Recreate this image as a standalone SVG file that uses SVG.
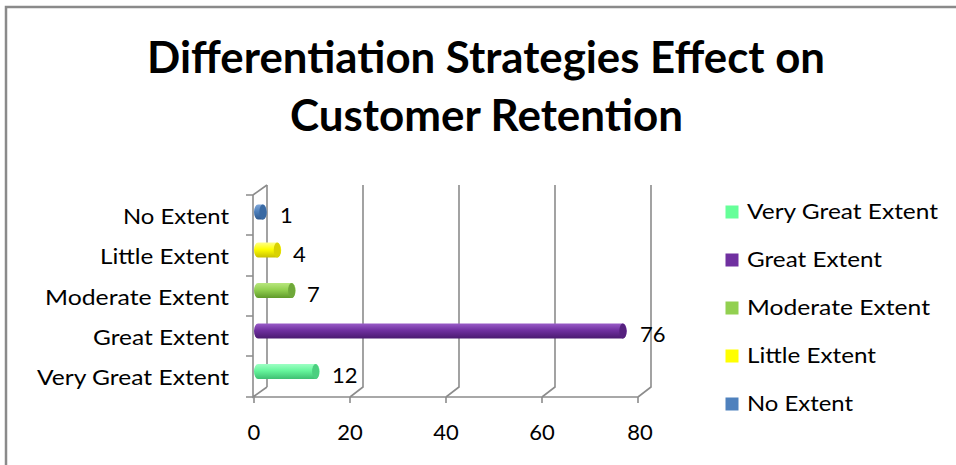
<svg xmlns="http://www.w3.org/2000/svg" width="956" height="465" viewBox="0 0 956 465">
<defs>
<style>
text{font-family:Lato,"Liberation Sans",sans-serif;fill:#000}
.title{font-size:43px;font-weight:bold}
.lbl{font-size:22px}
.grid{stroke:#8c8c8c;stroke-width:1.6;fill:none}
.axis{stroke:#8c8c8c;stroke-width:1.6;fill:none}
</style>
<linearGradient id="gVG" x1="0" y1="0" x2="0" y2="1"><stop offset="0" stop-color="#9dffc4"/><stop offset="0.45" stop-color="#66f59c"/><stop offset="1" stop-color="#3fbf72"/></linearGradient>
<linearGradient id="gG" x1="0" y1="0" x2="0" y2="1"><stop offset="0" stop-color="#9a5cc8"/><stop offset="0.45" stop-color="#7030a0"/><stop offset="1" stop-color="#4a1a70"/></linearGradient>
<linearGradient id="gM" x1="0" y1="0" x2="0" y2="1"><stop offset="0" stop-color="#b8e67e"/><stop offset="0.45" stop-color="#92d050"/><stop offset="1" stop-color="#5f9a2a"/></linearGradient>
<linearGradient id="gL" x1="0" y1="0" x2="0" y2="1"><stop offset="0" stop-color="#ffff8a"/><stop offset="0.45" stop-color="#ffff00"/><stop offset="1" stop-color="#c8c000"/></linearGradient>
<linearGradient id="gN" x1="0" y1="0" x2="0" y2="1"><stop offset="0" stop-color="#7fa6d8"/><stop offset="0.45" stop-color="#4f81bd"/><stop offset="1" stop-color="#2f5a8f"/></linearGradient>
</defs>
<rect x="0" y="0" width="956" height="465" fill="#fff"/>
<rect x="6" y="7" width="1000" height="500" fill="none" stroke="#8a8a8a" stroke-width="2.5"/>

<g id="title">
<text class="title" x="147" y="73" textLength="678" lengthAdjust="spacingAndGlyphs">Differentiation Strategies Effect on</text>
<text class="title" x="290" y="131" textLength="393" lengthAdjust="spacingAndGlyphs">Customer Retention</text>
</g>

<g id="gridlines">
<path class="grid" d="M267 185 V387 M363 185 V387 L350 397 M459 185 V387 L446 397 M555 185 V387 L542 397 M651 185 V387 L638 397"/>
<path class="axis" d="M253 195 L267 185 M253 195 V397 L267 387 M253 397 H638"/>
<path class="axis" d="M246 195 H253 M246 235 H253 M246 276 H253 M246 316 H253 M246 356 H253 M246 397 H253"/>
<path class="axis" d="M254 397 V403 M350 397 V403 M446 397 V403 M542 397 V403 M638 397 V403"/>
</g>

<g id="axis-labels">
<text class="lbl" x="229" y="224" text-anchor="end" textLength="106" lengthAdjust="spacingAndGlyphs">No Extent</text>
<text class="lbl" x="229" y="264" text-anchor="end" textLength="129" lengthAdjust="spacingAndGlyphs">Little Extent</text>
<text class="lbl" x="229" y="305" text-anchor="end" textLength="184" lengthAdjust="spacingAndGlyphs">Moderate Extent</text>
<text class="lbl" x="229" y="345" text-anchor="end" textLength="136" lengthAdjust="spacingAndGlyphs">Great Extent</text>
<text class="lbl" x="229" y="385" text-anchor="end" textLength="192" lengthAdjust="spacingAndGlyphs">Very Great Extent</text>
<text class="lbl" x="254" y="440" text-anchor="middle">0</text>
<text class="lbl" x="350" y="440" text-anchor="middle">20</text>
<text class="lbl" x="446" y="440" text-anchor="middle">40</text>
<text class="lbl" x="542" y="440" text-anchor="middle">60</text>
<text class="lbl" x="640" y="440" text-anchor="middle">80</text>
</g>

<g id="bar-no-extent">
<path d="M258 204.5 H262.8 A4 7.5 0 0 1 262.8 219.5 H258 A4 7.5 0 0 1 258 204.5 Z" fill="url(#gN)"/>
<ellipse cx="262.8" cy="212" rx="3.5" ry="7.5" fill="#3a6aa3"/>
<text class="lbl" x="280" y="223">1</text>
</g>
<g id="bar-little-extent">
<path d="M258 242.5 H277.2 A4 7.5 0 0 1 277.2 257.5 H258 A4 7.5 0 0 1 258 242.5 Z" fill="url(#gL)"/>
<ellipse cx="277.2" cy="250" rx="3.5" ry="7.5" fill="#d9d200"/>
<text class="lbl" x="293" y="262">4</text>
</g>
<g id="bar-moderate-extent">
<path d="M258 283 H291.6 A4 7.5 0 0 1 291.6 298 H258 A4 7.5 0 0 1 258 283 Z" fill="url(#gM)"/>
<ellipse cx="291.6" cy="290.5" rx="3.5" ry="7.5" fill="#6fa83a"/>
<text class="lbl" x="307" y="302">7</text>
</g>
<g id="bar-great-extent">
<path d="M258 323.5 H622.8 A4 7.5 0 0 1 622.8 338.5 H258 A4 7.5 0 0 1 258 323.5 Z" fill="url(#gG)"/>
<ellipse cx="622.8" cy="331" rx="3.5" ry="7.5" fill="#55207e"/>
<text class="lbl" x="640" y="342">76</text>
</g>
<g id="bar-very-great-extent">
<path d="M258 364 H315.6 A4 7.5 0 0 1 315.6 379 H258 A4 7.5 0 0 1 258 364 Z" fill="url(#gVG)"/>
<ellipse cx="315.6" cy="371.5" rx="3.5" ry="7.5" fill="#4ccf80"/>
<text class="lbl" x="332" y="383">12</text>
</g>

<g id="legend">
<rect x="725.5" y="205.5" width="13" height="13" fill="#66ff99"/>
<text class="lbl" x="747" y="219" textLength="191" lengthAdjust="spacingAndGlyphs">Very Great Extent</text>
<rect x="725.5" y="253.5" width="13" height="13" fill="#7030a0"/>
<text class="lbl" x="747" y="267" textLength="135" lengthAdjust="spacingAndGlyphs">Great Extent</text>
<rect x="725.5" y="301.5" width="13" height="13" fill="#92d050"/>
<text class="lbl" x="747" y="315" textLength="183" lengthAdjust="spacingAndGlyphs">Moderate Extent</text>
<rect x="725.5" y="349.5" width="13" height="13" fill="#ffff00"/>
<text class="lbl" x="747" y="363" textLength="129" lengthAdjust="spacingAndGlyphs">Little Extent</text>
<rect x="725.5" y="397.5" width="13" height="13" fill="#4f81bd"/>
<text class="lbl" x="747" y="411" textLength="106" lengthAdjust="spacingAndGlyphs">No Extent</text>
</g>
</svg>
